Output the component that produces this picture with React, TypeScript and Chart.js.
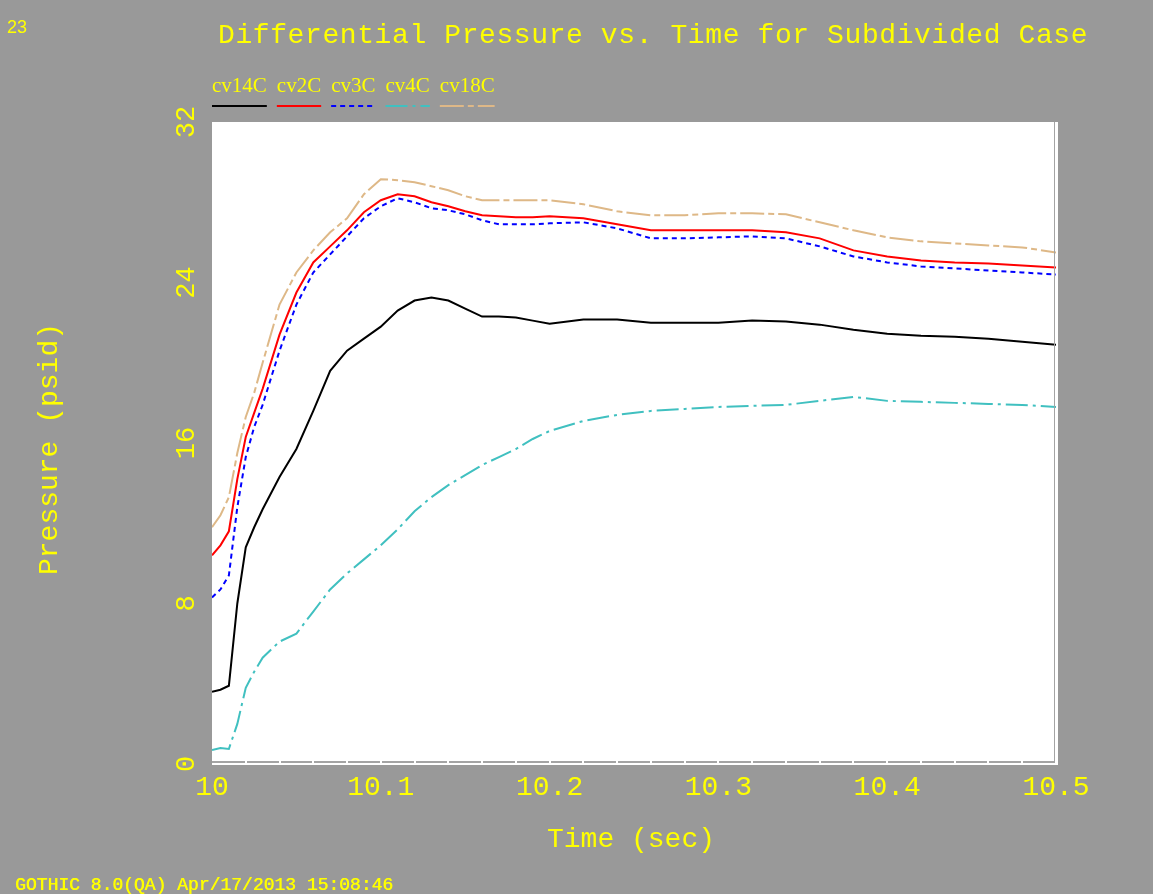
import React, { useEffect, useRef } from "react";
import { Chart, registerables } from "chart.js";
Chart.register(...registerables);

const times = [
  10.0, 10.005, 10.01, 10.015, 10.02, 10.025, 10.03, 10.04, 10.05, 10.06, 10.07, 10.08, 10.09,
  10.1, 10.11, 10.12, 10.13, 10.14, 10.15, 10.16, 10.17, 10.18, 10.19, 10.2, 10.22, 10.24,
  10.26, 10.28, 10.3, 10.32, 10.34, 10.36, 10.38, 10.4, 10.42, 10.44, 10.46, 10.48, 10.5,
];

const cv14C = [
  3.6, 3.7, 3.9, 8.0, 10.8, 11.8, 12.7, 14.3, 15.7, 17.6, 19.6, 20.6, 21.2,
  21.8, 22.6, 23.1, 23.25, 23.1, 22.7, 22.3, 22.3, 22.25, 22.1, 21.95, 22.15, 22.15,
  22.0, 22.0, 22.0, 22.1, 22.05, 21.9, 21.65, 21.45, 21.35, 21.3, 21.2, 21.05, 20.9,
];
const cv2C = [
  10.4, 10.9, 11.6, 14.2, 16.3, 17.5, 18.7, 21.4, 23.5, 25.0, 25.8, 26.6, 27.5,
  28.1, 28.4, 28.3, 28.0, 27.8, 27.55, 27.35, 27.3, 27.25, 27.25, 27.3, 27.2, 26.9,
  26.6, 26.6, 26.6, 26.6, 26.5, 26.2, 25.6, 25.3, 25.1, 25.0, 24.95, 24.85, 24.75,
];
const cv3C = [
  8.3, 8.7, 9.4, 12.8, 15.3, 16.8, 17.9, 20.6, 22.9, 24.5, 25.4, 26.3, 27.2,
  27.8, 28.2, 28.0, 27.7, 27.6, 27.4, 27.1, 26.9, 26.9, 26.9, 26.95, 27.0, 26.7,
  26.2, 26.2, 26.25, 26.3, 26.2, 25.8, 25.3, 25.0, 24.8, 24.7, 24.6, 24.5, 24.4,
];
const cv4C = [
  0.7, 0.8, 0.75, 2.0, 3.8, 4.6, 5.3, 6.1, 6.5, 7.6, 8.7, 9.5, 10.2,
  10.9, 11.7, 12.6, 13.3, 13.9, 14.4, 14.9, 15.3, 15.7, 16.2, 16.6, 17.1, 17.4,
  17.6, 17.7, 17.8, 17.85, 17.9, 18.1, 18.3, 18.1, 18.05, 18.0, 17.95, 17.9, 17.8,
];
const cv18C = [
  11.8, 12.4, 13.3, 15.5, 17.3, 18.5, 20.0, 22.9, 24.5, 25.6, 26.5, 27.2, 28.4,
  29.15, 29.1, 29.0, 28.8, 28.6, 28.3, 28.1, 28.1, 28.1, 28.1, 28.1, 27.9, 27.55,
  27.35, 27.35, 27.45, 27.45, 27.4, 27.0, 26.6, 26.25, 26.05, 25.95, 25.85, 25.75, 25.5,
];

const seriesNames = ["cv14C", "cv2C", "cv3C", "cv4C", "cv18C"];
const seriesValues = [cv14C, cv2C, cv3C, cv4C, cv18C];
const seriesColors = ["#000000", "#ff0000", "#0000ff", "#40c0c0", "#deb887"];
const seriesDashes: number[][] = [[], [], [5, 4], [22, 5, 3, 5], [24, 4, 6, 4]];

const yTicks = [0, 8, 16, 24, 32];
const xMin = 10;
const xMax = 10.5;
const xStep = 0.1;
const xMinorStep = 0.02;

const TITLE = "Differential Pressure vs. Time for Subdivided Case";
const X_TITLE = "Time (sec)";
const Y_TITLE = "Pressure (psid)";
const CORNER = "23";
const FOOTER = "GOTHIC 8.0(QA) Apr/17/2013 15:08:46";

const YELLOW = "#ffff00";
const BG = "#999999";
const FRAME = "#a4a4a4";

export default function App() {
  const ref = useRef<HTMLCanvasElement | null>(null);
  useEffect(() => {
    const canvas = ref.current;
    if (!canvas) return;

    const decor = {
      id: "decor",
      beforeDraw(chart: any) {
        const { ctx, chartArea: a } = chart;
        ctx.save();
        ctx.fillStyle = BG;
        ctx.fillRect(0, 0, chart.width, chart.height);
        ctx.fillStyle = "#ffffff";
        ctx.fillRect(a.left, a.top, a.right - a.left + 2, a.bottom - a.top + 1);
        ctx.restore();
      },
      afterDatasetsDraw(chart: any) {
        const { ctx, chartArea: a } = chart;
        const xs = chart.scales.x;
        ctx.save();
        ctx.fillStyle = FRAME;
        ctx.fillRect(a.right - 2, a.top, 1, a.bottom - a.top - 1);
        ctx.fillRect(a.left, a.bottom - 3, a.right - a.left - 1, 2);
        ctx.fillStyle = "#ffffff";
        const n = Math.round((xMax - xMin) / xMinorStep);
        for (let i = 1; i < n; i++) {
          const px = xs.getPixelForValue(xMin + i * xMinorStep);
          ctx.fillRect(Math.round(px) - 1, a.bottom - 3, 2, 2);
        }
        ctx.restore();
      },
      afterDraw(chart: any) {
        const { ctx, chartArea: a } = chart;
        const ys = chart.scales.y;
        ctx.save();
        ctx.fillStyle = YELLOW;
        ctx.textBaseline = "alphabetic";
        ctx.textAlign = "left";

        ctx.font = "18px 'Liberation Sans'";
        ctx.fillText(CORNER, 7, 33);

        ctx.font = "28px 'Liberation Mono'";
        (ctx as any).letterSpacing = "0.6px";
        ctx.fillText(TITLE, 218, 43);
        (ctx as any).letterSpacing = "0px";

        // legend
        ctx.font = "21px 'Liberation Serif'";
        let lx = a.left;
        for (let i = 0; i < seriesNames.length; i++) {
          const w = ctx.measureText(seriesNames[i]).width;
          ctx.fillStyle = YELLOW;
          ctx.fillText(seriesNames[i], lx, 92);
          ctx.strokeStyle = seriesColors[i];
          ctx.lineWidth = 2;
          ctx.setLineDash(seriesDashes[i]);
          ctx.beginPath();
          ctx.moveTo(lx, 106);
          ctx.lineTo(lx + w, 106);
          ctx.stroke();
          ctx.setLineDash([]);
          lx += w + 10;
        }

        // y tick labels, rotated
        ctx.fillStyle = YELLOW;
        ctx.font = "27px 'Liberation Mono'";
        ctx.textAlign = "center";
        ctx.textBaseline = "middle";
        for (const v of yTicks) {
          const py = ys.getPixelForValue(v);
          ctx.save();
          ctx.translate(187, py);
          ctx.rotate(-Math.PI / 2);
          ctx.fillText(String(v), 0, 0);
          ctx.restore();
        }

        // axis titles
        ctx.font = "28px 'Liberation Mono'";
        ctx.save();
        ctx.translate(50, (a.top + a.bottom) / 2 + 6);
        ctx.rotate(-Math.PI / 2);
        ctx.fillText(Y_TITLE, 0, 0);
        ctx.restore();
        ctx.fillText(X_TITLE, (a.left + a.right) / 2 - 3, 840);

        // footer
        ctx.textAlign = "left";
        ctx.textBaseline = "alphabetic";
        ctx.font = "18px 'Liberation Mono'";
        ctx.fillText(FOOTER, 15, 890);
        ctx.fillText(FOOTER, 15.5, 890);
        ctx.restore();
      },
    };

    const chart = new Chart(canvas, {
      type: "line",
      data: {
        datasets: seriesNames.map((name, i) => ({
          label: name,
          data: times.map((t, k) => ({ x: t, y: seriesValues[i][k] })),
          borderColor: seriesColors[i],
          borderWidth: 2,
          borderDash: seriesDashes[i],
          pointRadius: 0,
          fill: false,
          tension: 0,
        })),
      },
      options: {
        responsive: false,
        animation: false,
        layout: { padding: { left: 0, right: 97, top: 122, bottom: 0 } },
        plugins: {
          legend: { display: false },
          title: { display: false },
          tooltip: { enabled: false },
        },
        scales: {
          x: {
            type: "linear",
            min: xMin,
            max: xMax,
            grid: { display: false, drawTicks: false },
            border: { display: false },
            ticks: {
              stepSize: xStep,
              autoSkip: false,
              maxRotation: 0,
              minRotation: 0,
              color: YELLOW,
              padding: 7,
              font: { family: "'Liberation Mono'", size: 28 },
              callback: (v: any) => String(Math.round(Number(v) * 10) / 10),
            },
            afterFit(scale: any) {
              scale.height = 130;
            },
          },
          y: {
            type: "linear",
            min: 0,
            max: 32,
            grid: { display: false, drawTicks: false },
            border: { display: false },
            ticks: { display: false, stepSize: 8 },
            afterFit(scale: any) {
              scale.width = 212;
            },
          },
        },
      },
      plugins: [decor],
    });
    return () => chart.destroy();
  }, []);

  return (
    <div style={{ position: "fixed", left: 0, top: 0, width: 1153, height: 894, background: BG }}>
      <canvas ref={ref} width={1153} height={894} style={{ display: "block", width: 1153, height: 894 }} />
    </div>
  );
}
